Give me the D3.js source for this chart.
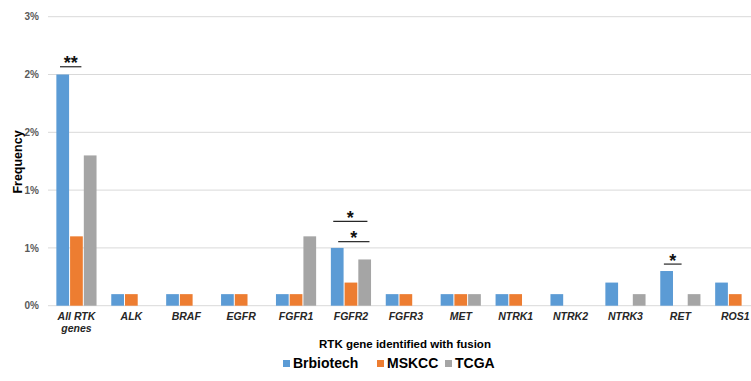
<!DOCTYPE html>
<html><head><meta charset="utf-8">
<script src="https://cdn.jsdelivr.net/npm/d3@7"></script>
<style>body{margin:0;background:#fff}svg{display:block;font-family:"Liberation Sans",Arial,sans-serif}</style>
</head><body><svg id="c" width="751" height="381"></svg>
<script>
const categories = ["All RTK genes","ALK","BRAF","EGFR","FGFR1","FGFR2","FGFR3","MET","NTRK1","NTRK2","NTRK3","RET","ROS1"];
const seriesNames = ["Brbiotech","MSKCC","TCGA"];
const brbiotech = [2.0,0.1,0.1,0.1,0.1,0.5,0.1,0.1,0.1,0.1,0.2,0.3,0.2];
const mskcc     = [0.6,0.1,0.1,0.1,0.1,0.2,0.1,0.1,0.1,0,0,0,0.1];
const tcga      = [1.3,0,0,0,0.6,0.4,0,0.1,0,0,0.1,0.1,0];
const yTicks = [0,0.5,1.0,1.5,2.0,2.5];
const yTickLabels = ["0%","1%","1%","2%","2%","3%"];
const annotations = [
  {cat:"All RTK genes", label:"**", level:2.067, f0:0.10, f1:0.62},
  {cat:"FGFR2", label:"*", level:0.554, f0:0.19, f1:0.95},
  {cat:"FGFR2", label:"*", level:0.73, f0:0.07, f1:0.90},
  {cat:"RET", label:"*", level:0.36, f0:0.10, f1:0.53}
];
const colors = ["#5B9BD5","#ED7D31","#A5A5A5"];
const seriesValues = [brbiotech, mskcc, tcga];

const svg = d3.select("#c");
const x = d3.scaleBand().domain(categories).range([49, 762.7]).paddingInner(0.25).paddingOuter(0.125);
const x1 = d3.scaleBand().domain(seriesNames).range([0, x.bandwidth()]);
const y = d3.scaleLinear().domain([0, 2.5]).range([305.7, 16.7]);

svg.append("g").selectAll("line").data(yTicks).join("line")
  .attr("x1", 48).attr("x2", 762).attr("y1", d=>y(d)).attr("y2", d=>y(d))
  .attr("stroke", "#d9d9d9").attr("stroke-width", 1);

const yAxis = d3.axisLeft(y).tickValues(yTicks).tickFormat((d,i)=>yTickLabels[i]).tickSize(0).tickPadding(0);
const ya = svg.append("g").attr("transform","translate(39,0)").call(yAxis);
ya.select(".domain").remove();
ya.selectAll("text").attr("font-size", 10).attr("font-weight","bold").attr("fill","#595959")
  .attr("font-family","Liberation Sans, Arial, sans-serif");

seriesNames.forEach((s, si) => {
  svg.append("g").selectAll("rect").data(categories.map((c,i)=>({c, v:seriesValues[si][i]}))).join("rect")
    .attr("x", d => x(d.c) + x1(s) + 0.5)
    .attr("width", x1.bandwidth() - 1)
    .attr("y", d => y(d.v))
    .attr("height", d => y(0) - y(d.v))
    .attr("fill", colors[si]);
});

const xl = svg.append("g");
categories.forEach(c => {
  const t = xl.append("text").attr("x", x(c) + x.bandwidth()/2).attr("y", 320)
    .attr("text-anchor","middle").attr("font-size", 10.5).attr("font-weight","bold")
    .attr("font-style","italic").attr("fill","#262626");
  if (c === "All RTK genes") {
    t.append("tspan").attr("x", x(c) + x.bandwidth()/2).attr("dy", 0).text("All RTK");
    t.append("tspan").attr("x", x(c) + x.bandwidth()/2).attr("dy", 12).text("genes");
  } else t.text(c);
});

annotations.forEach(a => {
  const x0 = x(a.cat) + a.f0 * x.bandwidth(), xe = x(a.cat) + a.f1 * x.bandwidth();
  const ly = y(a.level);
  svg.append("line").attr("x1", x0).attr("x2", xe).attr("y1", ly).attr("y2", ly)
    .attr("stroke","#262626").attr("stroke-width",1.2);
  svg.append("text").attr("x", (x0+xe)/2).attr("y", ly + 2.5).attr("text-anchor","middle")
    .attr("font-size", 18).attr("font-weight","bold").attr("fill","#111").text(a.label);
});

svg.append("text").attr("transform","translate(22,162) rotate(-90)").attr("text-anchor","middle")
  .attr("font-size", 12.5).attr("font-weight","bold").attr("fill","#000").text("Frequency");
svg.append("text").attr("x", 405).attr("y", 348).attr("text-anchor","middle")
  .attr("font-size", 11.5).attr("font-weight","bold").attr("fill","#000").text("RTK gene identified with fusion");

const legX = [283, 377, 445];
seriesNames.forEach((s, i) => {
  svg.append("rect").attr("x", legX[i]).attr("y", 360).attr("width", 7).attr("height", 7).attr("fill", colors[i]);
  svg.append("text").attr("x", legX[i] + 10).attr("y", 367.5).attr("font-size", 14).attr("font-weight","bold")
    .attr("fill","#000").text(s);
});
</script></body></html>
